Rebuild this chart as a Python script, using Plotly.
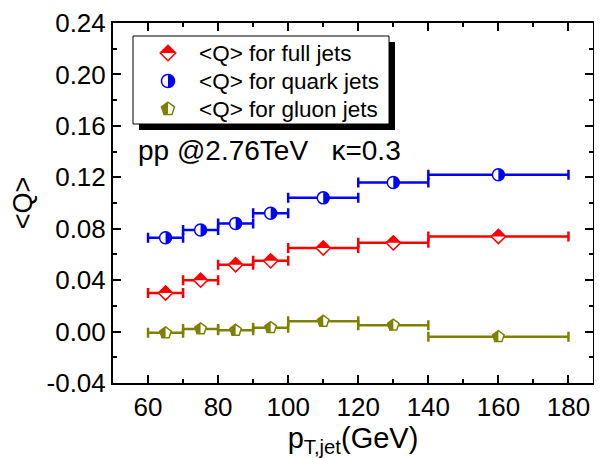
import numpy as np
import plotly.graph_objects as go

# ---- data ----
pt_centers = [65, 75, 85, 95, 110, 130, 160]
pt_halfwidth = [5, 5, 5, 5, 10, 10, 20]
q_full = [0.030, 0.040, 0.052, 0.055, 0.065, 0.069, 0.074]
q_quark = [0.073, 0.079, 0.084, 0.092, 0.104, 0.116, 0.122]
q_gluon = [-0.001, 0.002, 0.001, 0.003, 0.008, 0.005, -0.004]

series_names = ["<Q> for full jets", "<Q> for quark jets", "<Q> for gluon jets"]
series_colors = ["#ff0000", "#0000ff", "#808000"]

x_ticks = [60, 80, 100, 120, 140, 160, 180]
y_ticks = [-0.04, 0.00, 0.04, 0.08, 0.12, 0.16, 0.20, 0.24]
y_ticklabels = ["-0.04", "0.00", "0.04", "0.08", "0.12", "0.16", "0.20", "0.24"]

FONT = "Liberation Sans, Arial, sans-serif"

# ---- marker glyph geometry (pixels, y up) ----
def path_from(pts):
    return "M " + " L ".join(f"{x:.2f},{y:.2f}" for x, y in pts) + " Z"

def diamond_full(size):
    r = size / 2 * 1.3
    return path_from([(r, 0), (0, r), (-r, 0), (0, -r)])

def diamond_top(size):
    r = size / 2 * 1.3
    return path_from([(r, 0), (0, r), (-r, 0)])

def circle_full(size):
    r = size / 2
    a = np.linspace(0, 2 * np.pi, 33)[:-1]
    return path_from(list(zip(r * np.cos(a), r * np.sin(a))))

def circle_right(size):
    r = size / 2
    a = np.linspace(np.pi / 2, -np.pi / 2, 17)
    return path_from(list(zip(r * np.cos(a), r * np.sin(a))))

def pent_pts(size):
    r = size / 2 * 1.05
    return [(0, r), (-0.951 * r, 0.309 * r), (-0.588 * r, -0.809 * r),
            (0.588 * r, -0.809 * r), (0.951 * r, 0.309 * r)]

def pent_full(size):
    return path_from(pent_pts(size))

def pent_left(size):
    r = size / 2 * 1.05
    return path_from([(0, r), (-0.951 * r, 0.309 * r), (-0.588 * r, -0.809 * r), (0, -0.809 * r)])

sizes = [11, 12, 12]
symbols = ["diamond", "circle", "pentagon"]
half_paths = [diamond_top, circle_right, pent_left]
full_paths = [diamond_full, circle_full, pent_full]
series_vals = [q_full, q_quark, q_gluon]

fig = go.Figure()
shapes = []

for vals, name, col, sym, sz, half in zip(series_vals, series_names, series_colors,
                                          symbols, sizes, half_paths):
    fig.add_trace(go.Scatter(
        x=pt_centers, y=vals, mode="markers", name=name, showlegend=False,
        marker=dict(symbol=sym, size=sz, color="white", line=dict(color=col, width=1.5)),
        error_x=dict(type="data", array=pt_halfwidth, symmetric=True,
                     color=col, thickness=2.5, width=5),
    ))
    for xv, yv in zip(pt_centers, vals):
        shapes.append(dict(type="path", xref="x", yref="y",
                           xsizemode="pixel", ysizemode="pixel",
                           xanchor=xv, yanchor=yv, path=half(sz),
                           fillcolor=col, line=dict(width=0), layer="above"))

# ---- manual legend (positions in window pixels -> paper fractions) ----
L, T = 113, 23
W, H = 480, 360
def px(x):
    return (x - L) / W
def py(y):
    return (T + H - y) / H

shapes.append(dict(type="rect", xref="paper", yref="paper",
                   x0=px(139), x1=px(395), y0=py(130), y1=py(42),
                   fillcolor="black", line=dict(width=0), layer="above"))
shapes.append(dict(type="rect", xref="paper", yref="paper",
                   x0=px(133), x1=px(389), y0=py(124), y1=py(36),
                   fillcolor="white", line=dict(color="black", width=1), layer="above"))

annotations = []
row_y = [53, 81, 109]
for i, (name, col, sz, half, full) in enumerate(zip(series_names, series_colors, sizes,
                                                   half_paths, full_paths)):
    lsz = sz + 1
    shapes.append(dict(type="path", xref="paper", yref="paper",
                       xsizemode="pixel", ysizemode="pixel",
                       xanchor=px(168), yanchor=py(row_y[i]), path=full(lsz),
                       fillcolor="white", line=dict(color=col, width=1.5), layer="above"))
    shapes.append(dict(type="path", xref="paper", yref="paper",
                       xsizemode="pixel", ysizemode="pixel",
                       xanchor=px(168), yanchor=py(row_y[i]), path=half(lsz),
                       fillcolor=col, line=dict(width=0), layer="above"))
    annotations.append(dict(xref="paper", yref="paper", x=px(197), y=py(row_y[i]),
                            xanchor="left", yanchor="middle", showarrow=False,
                            text=name.replace("<", "&lt;").replace(">", "&gt;"),
                            font=dict(family=FONT, size=22.5, color="black")))

annotations.append(dict(xref="paper", yref="paper", x=px(136), y=py(150),
                        xanchor="left", yanchor="middle", showarrow=False,
                        text="pp @2.76TeV\u00a0\u00a0\u00a0κ=0.3",
                        font=dict(family=FONT, size=28, color="black")))

axis_common = dict(showline=True, linecolor="black", linewidth=2, mirror="ticks",
                   ticks="inside", ticklen=8, tickwidth=2, tickcolor="black",
                   showgrid=False, zeroline=False, automargin=False,
                   tickfont=dict(family=FONT, size=26, color="black"))

# the page body adds an 8px offset, so the figure is 8px smaller on each axis
fig.update_layout(
    width=594, height=450,
    margin=dict(l=105, r=9, t=15, b=75),
    paper_bgcolor="white", plot_bgcolor="white",
    showlegend=False,
    shapes=shapes, annotations=annotations,
    xaxis=dict(range=[50, 187], tickvals=x_ticks, **axis_common,
               minor=dict(ticks="inside", ticklen=4, tickwidth=2, dtick=10, tick0=0, tickcolor="black"),
               title=dict(text="p<sub>T,jet</sub>(GeV)", standoff=0,
                          font=dict(family=FONT, size=29, color="black"))),
    yaxis=dict(range=[-0.04, 0.24], tickvals=y_ticks, ticktext=y_ticklabels, **axis_common,
               minor=dict(ticks="inside", ticklen=4, tickwidth=2, dtick=0.02, tick0=0, tickcolor="black"),
               title=dict(text="&lt;Q&gt;", standoff=20,
                          font=dict(family=FONT, size=27, color="black"))),
)

fig.write_html("out.html")
